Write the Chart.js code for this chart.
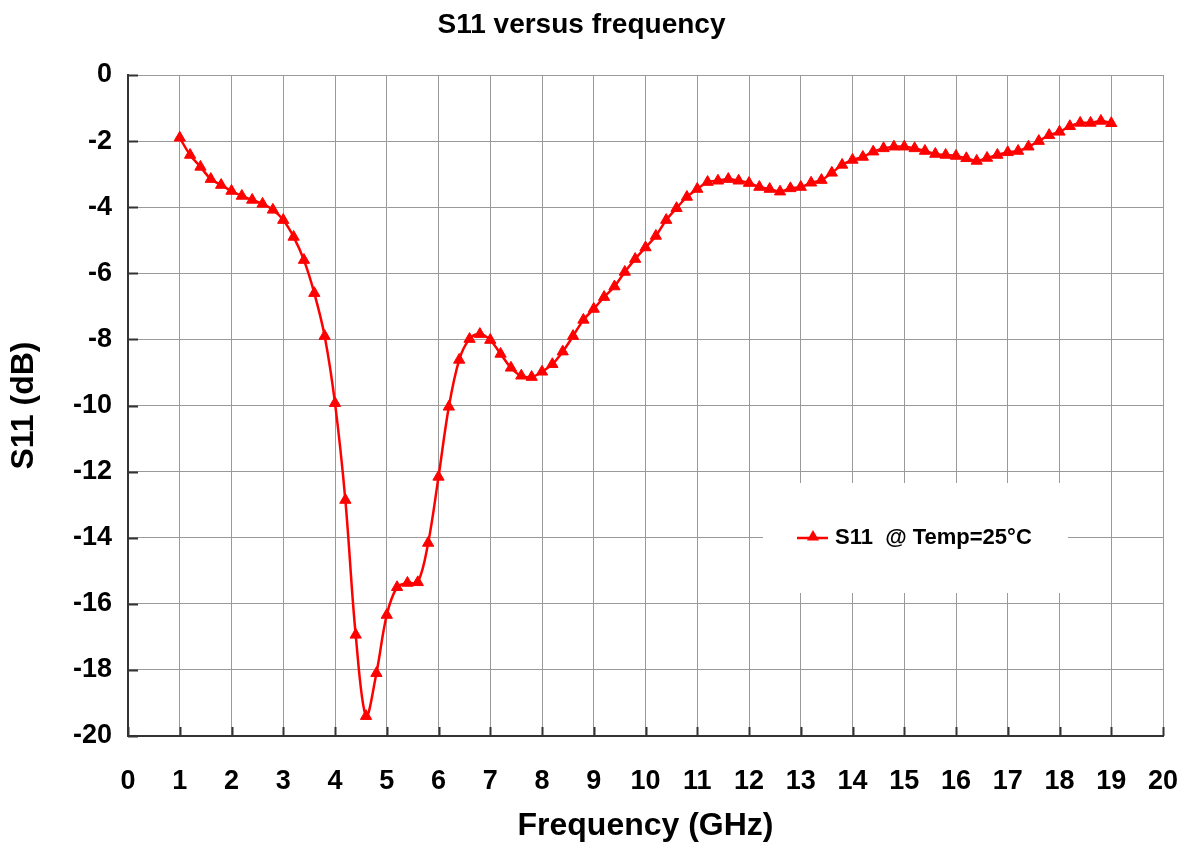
<!DOCTYPE html>
<html>
<head>
<meta charset="utf-8">
<script src="https://cdn.jsdelivr.net/npm/chart.js@4/dist/chart.umd.min.js"></script>
<style>
  html, body { margin: 0; padding: 0; background: #fff; }
  #wrap { width: 1187px; height: 846px; }
</style>
</head>
<body>
<div id="wrap"><canvas id="s11Chart" width="1187" height="846"></canvas></div>
<script>
// Frequency points (GHz)
const freq = [
    1.0, 1.2, 1.4, 1.6, 1.8, 2.0, 2.2, 2.4, 2.6, 2.8,
    3.0, 3.2, 3.4, 3.6, 3.8, 4.0, 4.2, 4.4, 4.6, 4.8,
    5.0, 5.2, 5.4, 5.6, 5.8, 6.0, 6.2, 6.4, 6.6, 6.8,
    7.0, 7.2, 7.4, 7.6, 7.8, 8.0, 8.2, 8.4, 8.6, 8.8,
    9.0, 9.2, 9.4, 9.6, 9.8, 10.0, 10.2, 10.4, 10.6, 10.8,
    11.0, 11.2, 11.4, 11.6, 11.8, 12.0, 12.2, 12.4, 12.6, 12.8,
    13.0, 13.2, 13.4, 13.6, 13.8, 14.0, 14.2, 14.4, 14.6, 14.8,
    15.0, 15.2, 15.4, 15.6, 15.8, 16.0, 16.2, 16.4, 16.6, 16.8,
    17.0, 17.2, 17.4, 17.6, 17.8, 18.0, 18.2, 18.4, 18.6, 18.8,
    19.0
];

// S11 (dB) @ 25°C
const s11 = [
    -1.90, -2.42, -2.78, -3.15, -3.33, -3.51, -3.66, -3.78, -3.90, -4.08,
    -4.39, -4.90, -5.60, -6.60, -7.90, -9.93, -12.86, -16.94, -19.40, -18.10,
    -16.34, -15.50, -15.37, -15.35, -14.16, -12.16, -10.04, -8.62, -7.99, -7.84,
    -8.02, -8.44, -8.86, -9.10, -9.14, -8.98, -8.75, -8.37, -7.90, -7.41,
    -7.08, -6.72, -6.40, -5.96, -5.57, -5.22, -4.87, -4.39, -4.03, -3.69,
    -3.45, -3.24, -3.20, -3.15, -3.20, -3.27, -3.39, -3.45, -3.53, -3.43,
    -3.39, -3.26, -3.18, -2.96, -2.72, -2.57, -2.48, -2.32, -2.22, -2.17,
    -2.17, -2.22, -2.30, -2.39, -2.42, -2.45, -2.52, -2.60, -2.51, -2.42,
    -2.34, -2.30, -2.17, -2.00, -1.82, -1.72, -1.55, -1.45, -1.45, -1.39,
    -1.46
];

const seriesLabel = 'S11  @ Temp=25°C';
const xTicks = { min: 0, max: 20, step: 1 };
const yTicks = { min: -20, max: 0, step: 2 };

const FONT = "'Liberation Sans', Arial, sans-serif";

// ticks drawn on the inside of the left and bottom axes
const insideTicks = {
    id: 'insideTicks',
    beforeDatasetsDraw(chart) {
        const { ctx, chartArea, scales } = chart;
        ctx.save();
        ctx.strokeStyle = '#333';
        ctx.lineWidth = 2;
        ctx.beginPath();
        scales.y.ticks.forEach(t => {
            const py = Math.round(scales.y.getPixelForValue(t.value)) + 0.5;
            ctx.moveTo(chartArea.left, py);
            ctx.lineTo(chartArea.left + 10, py);
        });
        scales.x.ticks.forEach(t => {
            const px = Math.round(scales.x.getPixelForValue(t.value)) + 0.5;
            ctx.moveTo(px, chartArea.bottom);
            ctx.lineTo(px, chartArea.bottom - 9);
        });
        ctx.stroke();
        ctx.restore();
    }
};

// legend box inside the plot
const innerLegend = {
    id: 'innerLegend',
    afterDraw(chart) {
        const { ctx, chartArea } = chart;
        const bx = chartArea.left + 635, by = chartArea.top + 408;
        ctx.save();
        ctx.fillStyle = '#fff';
        ctx.fillRect(bx, by, 305, 110);
        const cy = by + 55;
        ctx.strokeStyle = '#ff0000';
        ctx.lineWidth = 2.5;
        ctx.beginPath();
        ctx.moveTo(bx + 34, cy);
        ctx.lineTo(bx + 65, cy);
        ctx.stroke();
        ctx.fillStyle = '#ff0000';
        ctx.beginPath();
        const r = 7, cx = bx + 50, ty = cy - 1;
        ctx.moveTo(cx, ty - r);
        ctx.lineTo(cx + r * 0.866, ty + r / 2);
        ctx.lineTo(cx - r * 0.866, ty + r / 2);
        ctx.closePath();
        ctx.fill();
        ctx.fillStyle = '#000';
        ctx.font = 'bold 22px ' + FONT;
        ctx.textBaseline = 'middle';
        ctx.textAlign = 'left';
        ctx.fillText(seriesLabel, bx + 72, cy);
        ctx.restore();
    }
};

const ctx = document.getElementById('s11Chart');
new Chart(ctx, {
    type: 'line',
    data: {
        datasets: [{
            label: seriesLabel,
            data: freq.map((f, i) => ({ x: f, y: s11[i] })),
            borderColor: '#ff0000',
            backgroundColor: '#ff0000',
            borderWidth: 2.5,
            pointStyle: 'triangle',
            pointRadius: 6.5,
            pointBorderWidth: 1,
            pointBackgroundColor: '#ff0000',
            pointBorderColor: '#ff0000',
            tension: 0.35,
            fill: false
        }]
    },
    options: {
        responsive: false,
        animation: false,
        layout: { padding: { left: 0, right: 24, top: 0, bottom: 0 } },
        plugins: {
            legend: { display: false },
            tooltip: { enabled: false },
            title: {
                display: true,
                text: 'S11 versus frequency',
                color: '#000',
                font: { family: FONT, size: 28, weight: 'bold' },
                padding: { top: 8, bottom: 33.4 }
            }
        },
        scales: {
            x: {
                type: 'linear',
                min: xTicks.min,
                max: xTicks.max,
                afterFit: scale => { scale.height = 110; },
                ticks: {
                    stepSize: xTicks.step,
                    color: '#000',
                    padding: 3,
                    maxRotation: 0,
                    autoSkip: false,
                    font: { family: FONT, size: 27, weight: 'bold' }
                },
                grid: {
                    color: '#9a9a9a',
                    lineWidth: 1,
                    drawTicks: true,
                    tickLength: 26,
                    tickColor: 'rgba(0,0,0,0)'
                },
                border: { display: true, color: '#333', width: 2 },
                title: {
                    display: true,
                    text: 'Frequency (GHz)',
                    color: '#000',
                    font: { family: FONT, size: 32, weight: 'bold' },
                    padding: { top: 0, bottom: 1 }
                }
            },
            y: {
                min: yTicks.min,
                max: yTicks.max,
                afterFit: scale => { scale.width = 128; },
                ticks: {
                    stepSize: yTicks.step,
                    color: '#000',
                    padding: 16,
                    font: { family: FONT, size: 27, weight: 'bold' }
                },
                grid: { color: '#9a9a9a', lineWidth: 1, drawTicks: false },
                border: { display: true, color: '#333', width: 2 },
                title: {
                    display: true,
                    text: 'S11 (dB)',
                    color: '#000',
                    font: { family: FONT, size: 32, weight: 'bold' },
                    padding: { top: 5, bottom: 0 }
                }
            }
        }
    },
    plugins: [insideTicks, innerLegend]
});
</script>
</body>
</html>
